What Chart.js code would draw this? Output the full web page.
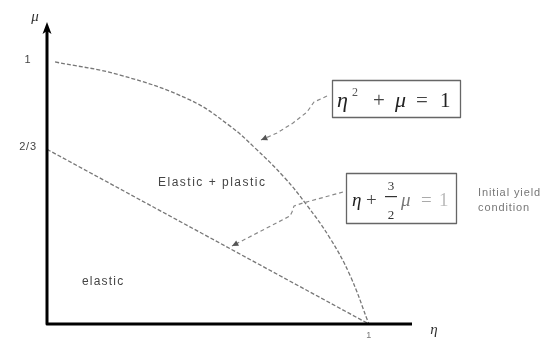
<!DOCTYPE html>
<html>
<head>
<meta charset="utf-8">
<script src="https://cdn.jsdelivr.net/npm/chart.js@4/dist/chart.umd.min.js"></script>
<style>
  html, body { margin: 0; padding: 0; background: #fff; }
  #wrap { width: 550px; height: 340px; }
  canvas { filter: blur(0.35px); }
</style>
</head>
<body>
<div id="wrap"><canvas id="c" width="550" height="340"></canvas></div>
<script>
// Yield surface  eta^2 + mu = 1  (points along the drawn curve)
const etaCurve = [0.025, 0.227, 0.444, 0.568, 0.646, 0.739, 0.807, 0.879, 0.941, 1.0];
const muCurve  = [1.0,   0.950, 0.855, 0.756, 0.672, 0.557, 0.454, 0.328, 0.187, 0.0];

// Initial yield condition  eta + 3/2 mu = 1
const etaLine = [0, 1];
const muLine  = [2 / 3, 0];

// Axis ticks
const xTickValues = [1];
const xTickLabels = ['1'];
const yTickValues = [1, 2 / 3];
const yTickLabels = ['1', '2/3'];

const toPoints = (xs, ys) => xs.map((x, i) => ({ x: x, y: ys[i] }));

const SERIF = '"Liberation Serif", "DejaVu Serif", serif';
const SANS = '"Liberation Sans", Arial, sans-serif';

function dashedArrow(ctx, pts, color) {
  ctx.save();
  ctx.strokeStyle = color;
  ctx.lineWidth = 1.2;
  ctx.setLineDash([4, 3]);
  ctx.beginPath();
  ctx.moveTo(pts[0][0], pts[0][1]);
  for (let i = 1; i < pts.length; i++) ctx.lineTo(pts[i][0], pts[i][1]);
  ctx.stroke();
  ctx.setLineDash([]);
  const a = pts[pts.length - 2], b = pts[pts.length - 1];
  const ang = Math.atan2(b[1] - a[1], b[0] - a[0]);
  ctx.fillStyle = '#555';
  ctx.beginPath();
  ctx.moveTo(b[0], b[1]);
  ctx.lineTo(b[0] - 7 * Math.cos(ang - 0.45), b[1] - 7 * Math.sin(ang - 0.45));
  ctx.lineTo(b[0] - 7 * Math.cos(ang + 0.45), b[1] - 7 * Math.sin(ang + 0.45));
  ctx.closePath();
  ctx.fill();
  ctx.restore();
}

function put(ctx, t, x, y, font, color) {
  ctx.font = font;
  ctx.fillStyle = color || '#222';
  ctx.fillText(t, x, y);
}

const decorations = {
  id: 'decorations',
  afterDatasetsDraw(chart) {
    const ctx = chart.ctx;
    const xs = chart.scales.x, ys = chart.scales.y;
    const x0 = xs.getPixelForValue(0), y0 = ys.getPixelForValue(0);
    const xEnd = chart.chartArea.right, yTop = chart.chartArea.top;

    ctx.save();
    // axes
    ctx.strokeStyle = '#000';
    ctx.lineWidth = 3;
    ctx.lineJoin = 'round';
    ctx.beginPath();
    ctx.moveTo(x0, yTop + 6);
    ctx.lineTo(x0, y0);
    ctx.lineTo(xEnd, y0);
    ctx.stroke();
    // arrow head on the mu axis
    ctx.fillStyle = '#000';
    ctx.beginPath();
    ctx.moveTo(x0, yTop - 3);
    ctx.lineTo(x0 - 4.5, yTop + 9);
    ctx.lineTo(x0, yTop + 6);
    ctx.lineTo(x0 + 4.5, yTop + 9);
    ctx.closePath();
    ctx.fill();

    // axis titles
    ctx.fillStyle = '#333';
    ctx.font = 'italic 15px ' + SERIF;
    ctx.textAlign = 'center';
    ctx.textBaseline = 'middle';
    ctx.fillText('\u03BC', x0 - 12, yTop - 8);
    ctx.fillText('\u03B7', xEnd + 22, y0 + 6);

    // tick labels
    ctx.font = '11px ' + SANS;
    ctx.fillStyle = '#444';
    ctx.letterSpacing = '0.8px';
    yTickValues.forEach((v, i) => {
      ctx.fillText(yTickLabels[i], x0 - 19, ys.getPixelForValue(v) - 2);
    });
    ctx.letterSpacing = '0px';
    ctx.fillStyle = '#777';
    ctx.font = '9px ' + SANS;
    xTickValues.forEach((v, i) => {
      ctx.fillText(xTickLabels[i], xs.getPixelForValue(v), y0 + 12);
    });

    // region labels
    ctx.textAlign = 'left';
    ctx.textBaseline = 'alphabetic';
    ctx.letterSpacing = '1.5px';
    put(ctx, 'Elastic + plastic', 158, 186, '12px ' + SANS, '#444');
    ctx.letterSpacing = '1.2px';
    put(ctx, 'elastic', 82, 285, '12px ' + SANS, '#444');
    ctx.letterSpacing = '0.9px';
    put(ctx, 'Initial yield', 478, 196, '11px ' + SANS, '#777');
    put(ctx, 'condition', 478, 211, '11px ' + SANS, '#777');
    ctx.letterSpacing = '0px';

    // boxed equations
    ctx.strokeStyle = '#666';
    ctx.lineWidth = 1.3;
    ctx.strokeRect(332.5, 80.5, 128, 37);
    ctx.strokeRect(346.5, 173.5, 110, 50);

    const it = 'italic 22px ' + SERIF, up = '21px ' + SERIF;
    put(ctx, '\u03B7', 337, 107, it, '#222');
    put(ctx, '2', 352, 96, '12px ' + SERIF, '#555');
    put(ctx, '+', 373, 107, up, '#444');
    put(ctx, '\u03BC', 395, 107, it, '#222');
    put(ctx, '=', 416, 107, up, '#444');
    put(ctx, '1', 440, 107, up, '#222');

    const it2 = 'italic 19px ' + SERIF, up2 = '19px ' + SERIF;
    put(ctx, '\u03B7', 352, 206, it2, '#222');
    put(ctx, '+', 366, 206, up2, '#444');
    ctx.textAlign = 'center';
    put(ctx, '3', 391, 190, '13px ' + SERIF, '#333');
    put(ctx, '2', 391, 219, '13px ' + SERIF, '#333');
    ctx.fillRect(385, 196, 12, 1.2);
    ctx.textAlign = 'left';
    put(ctx, '\u03BC', 401, 206, it2, '#777');
    put(ctx, '=', 421, 206, up2, '#aaa');
    put(ctx, '1', 439, 206, up2, '#bbb');

    // leader arrows from the equations to their curves
    dashedArrow(ctx, [[327, 96], [314, 102], [307, 112], [293, 123], [277, 133], [261, 140]], '#888');
    dashedArrow(ctx, [[343, 192], [303, 203], [294, 206], [292, 212], [290, 216], [232, 246]], '#888');
    ctx.restore();
  }
};

new Chart(document.getElementById('c'), {
  type: 'scatter',
  data: {
    datasets: [
      {
        label: 'eta^2 + mu = 1',
        data: toPoints(etaCurve, muCurve),
        showLine: true,
        tension: 0.4,
        borderColor: '#777',
        borderWidth: 1.3,
        borderDash: [4, 2],
        pointRadius: 0
      },
      {
        label: 'eta + 3/2 mu = 1',
        data: toPoints(etaLine, muLine),
        showLine: true,
        borderColor: '#777',
        borderWidth: 1.3,
        borderDash: [4, 2],
        pointRadius: 0
      }
    ]
  },
  options: {
    responsive: false,
    devicePixelRatio: 1,
    animation: false,
    layout: { padding: { left: 47, right: 138, top: 25, bottom: 16 } },
    plugins: { legend: { display: false }, tooltip: { enabled: false } },
    scales: {
      x: { type: 'linear', min: 0, max: 1.134, display: false },
      y: { type: 'linear', min: 0, max: 1.141, display: false }
    }
  },
  plugins: [decorations]
});
</script>
</body>
</html>
